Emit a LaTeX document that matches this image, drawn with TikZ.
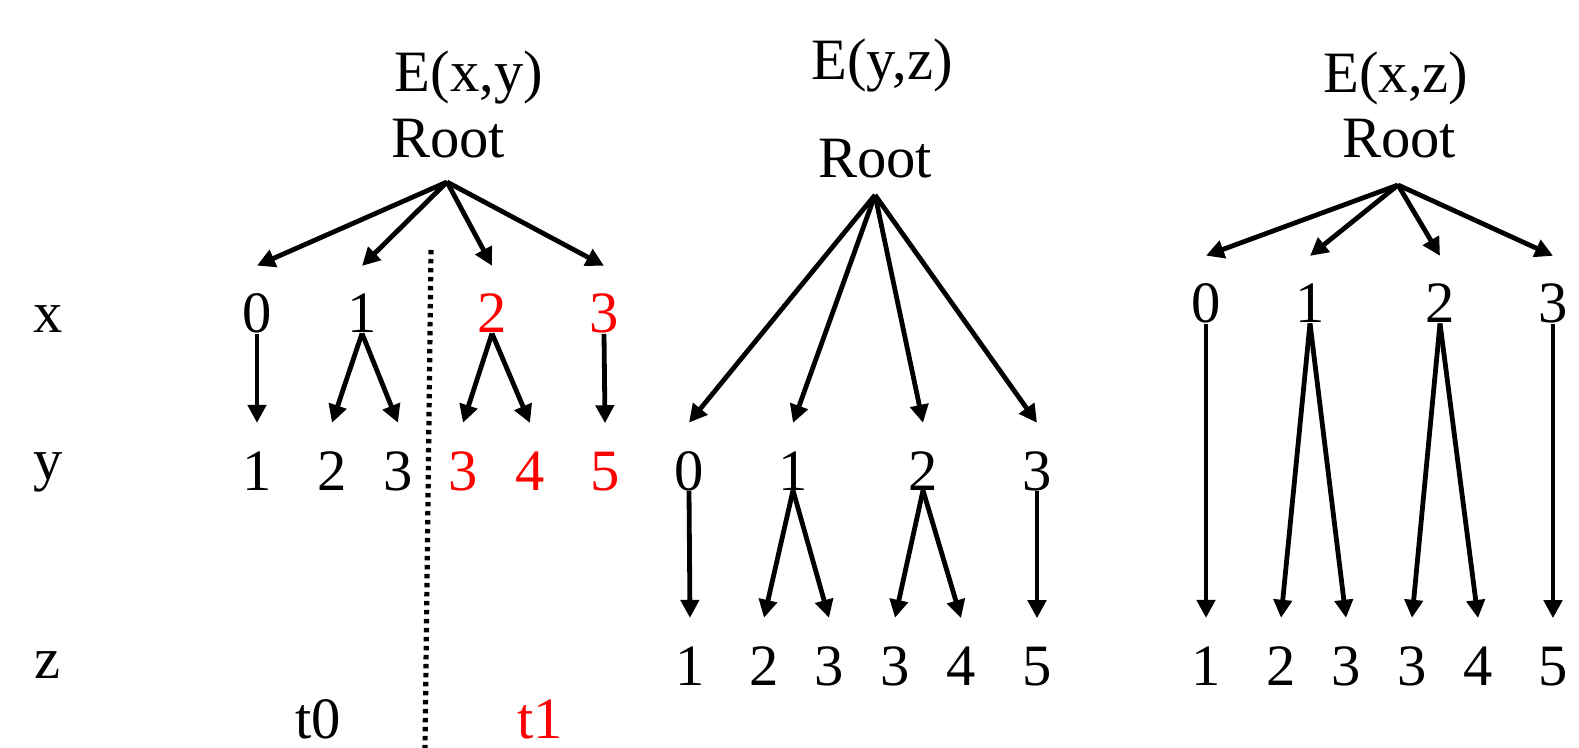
\documentclass[tikz,border=0pt]{standalone}
\usepackage{fontspec}
\setmainfont{Liberation Serif}
\usetikzlibrary{arrows.meta}
\begin{document}
\begin{tikzpicture}[x=0.5pt,y=-0.5pt,
  lbl/.style={inner sep=0pt,anchor=base,font=\fontsize{29.3}{35}\selectfont},
  hot/.style={lbl,text=red},
  arr/.style={line width=2.4pt,-{Triangle[length=9pt,width=9pt]}},
  sep/.style={line width=2.6pt,dash pattern=on 2.2pt off 2.3pt}]
\useasboundingbox (0,0) rectangle (1579,748);

% level labels
\node[lbl] (lx) at (48,333) {x};
\node[lbl] (ly) at (48,480) {y};
\node[lbl] (lz) at (48,678) {z};

% ---- E(x,y) ----
\node[lbl] (h1) at (469,92) {E(x,y)};
\node[lbl] (r1) at (448,158) {Root};
\coordinate (a1) at (447,182);
\node[lbl] (p0) at (257,333) {0};
\node[lbl] (p1) at (362,333) {1};
\node[hot] (p2) at (492,333) {2};
\node[hot] (p3) at (604,333) {3};
\node[lbl] (q1) at (257,490) {1};
\node[lbl] (q2) at (332,490) {2};
\node[lbl] (q3) at (398,490) {3};
\node[hot] (q4) at (463,490) {3};
\node[hot] (q5) at (530,490) {4};
\node[hot] (q6) at (605,490) {5};
\node[lbl] (t0) at (318,738) {t0};
\node[hot] (t1) at (540,738) {t1};
\foreach \c in {p0,p1,p2,p3}
  \draw[arr] (a1) -- ([yshift=14pt]\c.north);
\foreach \s/\c in {p0/q1,p1/q2,p1/q3,p2/q4,p2/q5,p3/q6}
  \draw[arr] (\s.south) -- ([yshift=14pt]\c.north);
\coordinate (d1) at (431,250);
\coordinate (d2) at (425,748);
\draw[sep] (d1) -- (d2);

% ---- E(y,z) ----
\node[lbl] (h2) at (882,80) {E(y,z)};
\node[lbl] (r2) at (875,178) {Root};
\coordinate (a2) at (875,195);
\node[lbl] (u0) at (689,490) {0};
\node[lbl] (u1) at (793,490) {1};
\node[lbl] (u2) at (923,490) {2};
\node[lbl] (u3) at (1037,490) {3};
\node[lbl] (v1) at (690,685) {1};
\node[lbl] (v2) at (764,685) {2};
\node[lbl] (v3) at (829,685) {3};
\node[lbl] (v4) at (895,685) {3};
\node[lbl] (v5) at (961,685) {4};
\node[lbl] (v6) at (1037,685) {5};
\foreach \c in {u0,u1,u2,u3}
  \draw[arr] (a2) -- ([yshift=14pt]\c.north);
\foreach \s/\c in {u0/v1,u1/v2,u1/v3,u2/v4,u2/v5,u3/v6}
  \draw[arr] (\s.south) -- ([yshift=14pt]\c.north);

% ---- E(x,z) ----
\node[lbl] (h3) at (1396,93) {E(x,z)};
\node[lbl] (r3) at (1399,158) {Root};
\coordinate (a3) at (1398,185);
\node[lbl] (w0) at (1206,323) {0};
\node[lbl] (w1) at (1310,323) {1};
\node[lbl] (w2) at (1440,323) {2};
\node[lbl] (w3) at (1553,323) {3};
\node[lbl] (z1) at (1206,685) {1};
\node[lbl] (z2) at (1281,685) {2};
\node[lbl] (z3) at (1346,685) {3};
\node[lbl] (z4) at (1412,685) {3};
\node[lbl] (z5) at (1478,685) {4};
\node[lbl] (z6) at (1553,685) {5};
\foreach \c in {w0,w1,w2,w3}
  \draw[arr] (a3) -- ([yshift=14pt]\c.north);
\foreach \s/\c in {w0/z1,w1/z2,w1/z3,w2/z4,w2/z5,w3/z6}
  \draw[arr] (\s.south) -- ([yshift=14pt]\c.north);
\end{tikzpicture}
\end{document}
